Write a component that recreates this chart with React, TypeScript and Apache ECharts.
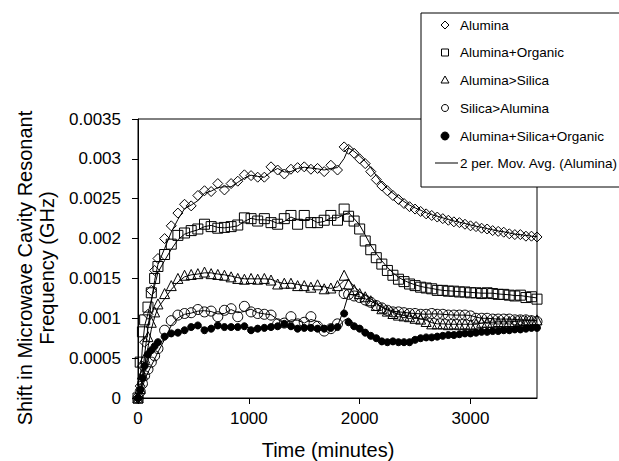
import React, { useEffect, useRef } from "react";
import * as echarts from "echarts";

// Time of each reading (minutes)
const times = [
  0, 20, 40, 60, 90, 120, 150,
  180, 240, 300, 360, 420, 480, 540, 600, 660, 720, 780, 840, 900, 960,
  1020, 1080, 1140, 1200, 1260, 1320, 1380, 1440, 1500, 1560, 1620, 1680, 1740, 1800, 1860,
  1900, 1950, 2000, 2050, 2100, 2150, 2200, 2250, 2300, 2350, 2400, 2450, 2500, 2550, 2600,
  2650, 2700, 2750, 2800, 2850, 2900, 2950, 3000, 3050, 3100, 3150, 3200, 3250, 3300, 3350,
  3400, 3450, 3500, 3550, 3600,
];

// Frequency shifts, in units of 1e-4 GHz
const aluminaE4 = [
  0, 1.5, 4, 7, 10.5, 13.5, 16,
  17.5, 20, 21.6, 23.2, 24.3, 24.1, 25.4, 26, 25.9, 26.9, 26.1, 26.9, 27.2, 28,
  27.9, 27.7, 27.7, 29, 28.6, 28.1, 28.7, 28.9, 29, 28.7, 28.8, 28.4, 29.2, 28.6, 31.5,
  31.2, 30.7, 30.0, 29.4, 28.4, 27.4, 26.6, 26.0, 25.4, 24.9, 24.4, 24.0, 23.7, 23.4, 23.1,
  22.9, 22.7, 22.5, 22.3, 22.1, 22.0, 21.8, 21.6, 21.5, 21.3, 21.2, 21.0, 20.9, 20.8, 20.6,
  20.5, 20.5, 20.3, 20.3, 20.2,
];
const aluminaOrganicE4 = [
  0, 4.5, 8.3, 9.8, 11.4, 13.2, 15,
  16.5, 18, 19.3, 20.4, 20.7, 21, 21.2, 21.8, 21.5, 21.3, 21.4, 21.5, 21.7, 22.6,
  22.5, 22.2, 22.5, 22, 21.8, 22.5, 22.9, 21.8, 22.9, 22, 22, 22.3, 22.9, 22.3, 23.7,
  22.8, 22.2, 21.2, 19.7, 18.6, 17.6, 16.8, 16.0, 15.4, 14.9, 14.6, 14.3, 14.1, 13.9, 13.8,
  13.7, 13.5, 13.5, 13.4, 13.4, 13.3, 13.3, 13.2, 13.2, 13.1, 13.2, 13.1, 13.0, 13.0, 12.9,
  12.8, 12.9, 12.6, 12.7, 12.4,
];
const aluminaSilicaE4 = [
  0, 1.2, 3, 5, 7.7, 9.5, 10.8,
  11.8, 13.1, 14.1, 15, 15.4, 15.5, 15.6, 15.8, 15.6, 15.5, 15.4, 15.2, 15.0, 14.9,
  15.0, 14.9, 15.0, 14.8, 14.3, 14.4, 14.4, 14.1, 14.1, 13.9, 14.2, 13.7, 13.8, 14.1, 15.4,
  14.3, 13.6, 13.1, 12.7, 12.2, 11.6, 11.2, 10.9, 10.6, 10.4, 10.3, 10.2, 10.0, 9.9, 9.6,
  9.3, 9.3, 9.3, 9.2, 9.3, 9.2, 9.3, 9.2, 9.3, 9.5, 9.5, 9.5, 9.6, 9.5, 9.6,
  9.6, 9.7, 9.7, 9.7, 9.8,
];
const silicaAluminaE4 = [
  0, 0.8, 1.8, 2.8, 3.6, 4.5, 5.3,
  6.2, 8.5, 9.7, 10.4, 10.6, 10.7, 11.1, 10.8, 10.9, 10.2, 11.0, 11.2, 10.2, 11.5,
  10.8, 10.6, 10.5, 10.4, 9.3, 9.4, 10.2, 9.3, 9.5, 10.2, 9.0, 8.4, 8.7, 9.3, 13.1,
  13.0, 12.8, 12.6, 12.3, 12.0, 11.6, 11.3, 11.0, 10.8, 10.8, 10.7, 10.6, 10.6, 10.5, 10.5,
  10.6, 10.5, 10.5, 10.4, 10.4, 10.4, 10.4, 10.3, 10.0, 10.0, 10.0, 9.9, 9.9, 9.9, 9.9,
  9.8, 9.8, 9.8, 9.7, 9.6,
];
const aluminaSilicaOrganicE4 = [
  0, 1, 2.5, 4, 5.5, 6, 6.5,
  7, 7.7, 8.1, 8.2, 8.5, 8.9, 9.1, 8.5, 8.7, 9.1, 8.9, 8.9, 8.9, 9.0,
  8.5, 8.7, 8.8, 8.9, 9.0, 9.3, 9.0, 8.7, 8.8, 8.8, 8.7, 8.7, 8.8, 8.9, 10.6,
  9.5, 9.0, 8.7, 8.2, 7.8, 7.5, 7.1, 7.0, 7.1, 7.0, 7.0, 7.0, 7.3, 7.5, 7.6,
  7.6, 7.7, 7.8, 7.9, 7.9, 8.0, 8.1, 8.1, 8.2, 8.3, 8.3, 8.4, 8.4, 8.5, 8.5,
  8.6, 8.6, 8.7, 8.8, 8.8,
];

const seriesNames = [
  "Alumina",
  "Alumina+Organic",
  "Alumina>Silica",
  "Silica>Alumina",
  "Alumina+Silica+Organic",
];
const trendLabel = "2 per. Mov. Avg. (Alumina)";
const xTicks = [0, 1000, 2000, 3000];
const yTickLabels = ["0", "0.0005", "0.001", "0.0015", "0.002", "0.0025", "0.003", "0.0035"];
const xTitle = "Time (minutes)";
const yTitle = "Shift in Microwave Cavity Resonant\nFrequency (GHz)";

const E4 = 1e-4;
const FONT = "'Liberation Sans', Arial, sans-serif";

function toPoints(vals: number[]) {
  return times.map((t, i) => [t, +(vals[i] * E4).toPrecision(6)]);
}
function movingAvg(pts: number[][]) {
  return pts.slice(1).map((p, i) => [p[0], (pts[i][1] + p[1]) / 2]);
}

const styles = [
  { symbol: "diamond", size: 10, fill: "rgba(0,0,0,0)" },
  { symbol: "rect", size: 10, fill: "rgba(0,0,0,0)" },
  { symbol: "triangle", size: 10, fill: "rgba(0,0,0,0)" },
  { symbol: "circle", size: 10, fill: "rgba(0,0,0,0)" },
  { symbol: "circle", size: 7, fill: "#000" },
];

export default function App() {
  const ref = useRef<HTMLDivElement>(null);
  useEffect(() => {
    if (!ref.current) return;
    const chart = echarts.init(ref.current, null, { renderer: "svg" });
    const allVals = [aluminaE4, aluminaOrganicE4, aluminaSilicaE4, silicaAluminaE4, aluminaSilicaOrganicE4];
    const pointSets = allVals.map(toPoints);

    const series: any[] = [];
    pointSets.forEach((pts, k) => {
      series.push({
        type: "line",
        name: k === 0 ? trendLabel : trendLabel + " " + k,
        data: movingAvg(pts),
        showSymbol: false,
        symbol: "none",
        silent: true,
        lineStyle: { color: "#000", width: 1 },
        z: 2,
      });
    });
    pointSets.forEach((pts, k) => {
      const st = styles[k];
      series.push({
        type: "scatter",
        name: seriesNames[k],
        data: pts,
        symbol: st.symbol,
        symbolSize: st.size,
        itemStyle: { color: st.fill, borderColor: "#000", borderWidth: 1, opacity: 1 },
        z: 3,
      });
    });

    // Legend drawn as a graphic box
    const rowY = [25, 52.5, 80, 108, 136, 163];
    const symX = 445;
    const legendItems: any[] = [
      { type: "polygon", shape: { points: [[symX, rowY[0] - 4], [symX + 4, rowY[0]], [symX, rowY[0] + 4], [symX - 4, rowY[0]]] }, style: { fill: "none", stroke: "#000", lineWidth: 1 } },
      { type: "rect", shape: { x: symX - 3.5, y: rowY[1] - 3.5, width: 7, height: 7 }, style: { fill: "none", stroke: "#000", lineWidth: 1 } },
      { type: "polygon", shape: { points: [[symX, rowY[2] - 4], [symX + 4, rowY[2] + 3], [symX - 4, rowY[2] + 3]] }, style: { fill: "none", stroke: "#000", lineWidth: 1 } },
      { type: "circle", shape: { cx: symX, cy: rowY[3], r: 3.5 }, style: { fill: "none", stroke: "#000", lineWidth: 1 } },
      { type: "circle", shape: { cx: symX, cy: rowY[4], r: 4 }, style: { fill: "#000", stroke: "#000", lineWidth: 1 } },
      { type: "line", shape: { x1: 435, y1: rowY[5], x2: 458, y2: rowY[5] }, style: { stroke: "#000", lineWidth: 1 } },
    ];
    const legendTexts = [...seriesNames, trendLabel].map((t, i) => ({
      type: "text",
      x: 460,
      y: rowY[i],
      style: { text: t, fontSize: 13.5, fontFamily: FONT, fill: "#000", textVerticalAlign: "middle", textAlign: "left" },
    }));

    chart.setOption({
      animation: false,
      backgroundColor: "#fff",
      grid: { left: 138, right: 82, top: 119, bottom: 63, show: true, borderColor: "#000", borderWidth: 1, backgroundColor: "transparent" },
      xAxis: {
        type: "value",
        min: 0,
        max: 3600,
        interval: 1000,
        splitLine: { show: false },
        axisLine: { show: true, lineStyle: { color: "#000", width: 1 } },
        axisTick: { show: true, inside: false, length: 6, lineStyle: { color: "#000" }, customValues: xTicks },
        axisLabel: { color: "#000", fontSize: 17, fontFamily: FONT, margin: 12, customValues: xTicks, formatter: (v: number) => String(v) },
      },
      yAxis: {
        type: "value",
        min: 0,
        max: 0.0035,
        interval: 0.0005,
        splitLine: { show: false },
        axisLine: { show: true, onZero: false, lineStyle: { color: "#000", width: 1 } },
        axisTick: { show: true, inside: false, length: 6, lineStyle: { color: "#000" } },
        axisLabel: {
          color: "#000",
          fontSize: 17,
          fontFamily: FONT,
          margin: 17,
          formatter: (v: number) => yTickLabels[Math.round(v / 0.0005)] ?? "",
        },
      },
      graphic: [
        {
          type: "text",
          x: 328,
          y: 450,
          style: { text: xTitle, fontSize: 20, fontFamily: FONT, fill: "#000", textAlign: "center", textVerticalAlign: "middle" },
        },
        {
          type: "text",
          x: 36,
          y: 268,
          rotation: Math.PI / 2,
          style: { text: yTitle, fontSize: 20, lineHeight: 22, fontFamily: FONT, fill: "#000", textAlign: "center", textVerticalAlign: "middle" },
        },
        {
          type: "rect",
          shape: { x: 421, y: 13, width: 230, height: 174 },
          style: { fill: "#fff", stroke: "#000", lineWidth: 1 },
          z: 100,
        },
        ...legendItems.map((e) => ({ ...e, z: 101 })),
        ...legendTexts.map((e) => ({ ...e, z: 101 })),
      ],
      series,
    });
    return () => chart.dispose();
  }, []);
  return <div ref={ref} style={{ position: "fixed", left: 0, top: 0, width: 619, height: 461 }} />;
}
